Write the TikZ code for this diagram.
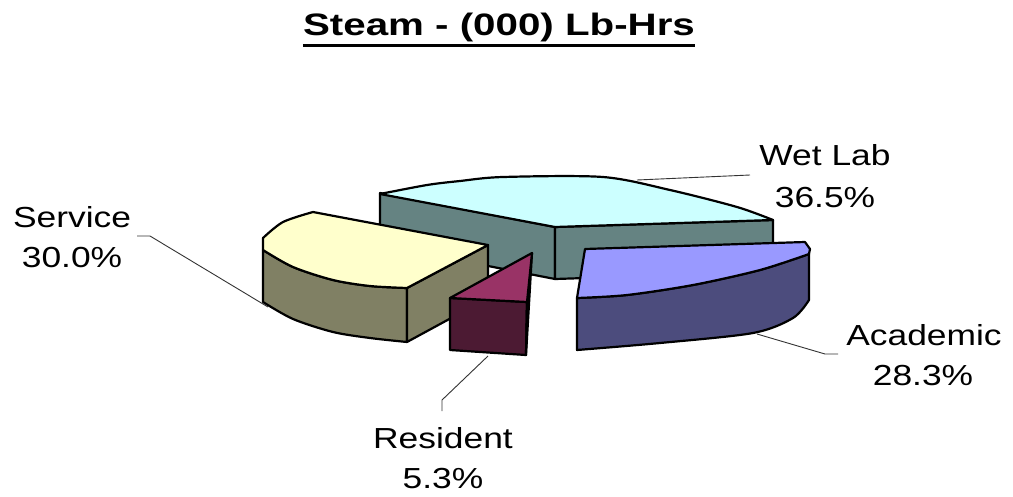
\documentclass[tikz,border=0pt]{standalone}
\usepackage{fontspec}
\setmainfont{Liberation Sans}
\newfontfamily\labfont[FakeStretch=1.22]{Liberation Sans}
\newfontfamily\titfont[FakeStretch=1.30]{Liberation Sans}
\definecolor{wettop}{RGB}{204,255,255}
\definecolor{wetside}{RGB}{101,131,130}
\definecolor{sertop}{RGB}{255,255,204}
\definecolor{serside}{RGB}{128,128,100}
\definecolor{acatop}{RGB}{153,153,255}
\definecolor{acaside}{RGB}{76,76,125}
\definecolor{restop}{RGB}{153,51,102}
\definecolor{resside}{RGB}{76,26,51}
\tikzset{
  face/.style={draw=black, line width=2.2pt, line join=round},
  leader/.style={draw=black!80, line width=0.9pt},
  lab/.style={font=\labfont\fontsize{29}{34}\selectfont, inner sep=0pt, anchor=base},
}
\begin{document}
\begin{tikzpicture}[x=1pt,y=-1pt]
\useasboundingbox (0,0) rectangle (1013,496);
\fill[white] (0,0) rectangle (1013,496);
% title
\node[font=\titfont\bfseries\fontsize{31}{36}\selectfont, inner sep=0pt, anchor=base] (title) at (499,35) {Steam - (000) Lb-Hrs};
\draw[line width=3.2pt] ([yshift=-10.5pt]title.base west) -- ([yshift=-10.5pt]title.base east);
% Wet Lab slice
\path[face, fill=wetside] (380,193) -- (555,227) -- (555,279) -- (380,245) -- cycle;
\path[face, fill=wetside] (555,227) -- (773,220) -- (773,272) -- (555,279) -- cycle;
\path[face, fill=wettop] (380,194) -- plot[smooth] coordinates {(380,194) (427,185) (460,181) (503,177) (603,177) (670,190) (737,207) (773,220)} -- (555,227) -- cycle;
% Service slice
\path[face, fill=serside] plot[smooth] coordinates {(263,250) (293,267) (333,280) (370,286) (407,288)} -- (407,342) -- plot[smooth] coordinates {(407,342) (370,338) (333,332) (293,319) (263,302)} -- cycle;
\path[face, fill=serside] (407,288) -- (488,245) -- (488,298) -- (407,342) -- cycle;
\path[face, fill=sertop] (313,212) -- (488,245) -- (407,288) -- plot[smooth] coordinates {(407,288) (370,286) (333,280) (293,267) (263,250)} -- (263,238) -- plot[smooth] coordinates {(263,238) (283,222) (313,212)} -- cycle;
% Academic slice
\path[face, fill=acaside] plot[smooth] coordinates {(577,298) (627,295) (693,285) (760,270) (809,254)} -- (809,300) -- plot[smooth] coordinates {(809,300) (793,318) (753,333) (660,343) (577,350)} -- cycle;
\path[face, fill=acatop] (585,249) -- (805,242) -- (810,249) -- plot[smooth] coordinates {(809,254) (760,270) (693,285) (627,295) (577,298)} -- cycle;
% Resident slice
\path[face, fill=resside] (450,298) -- (527,302) -- (526,355) -- (450,350) -- cycle;
\path[face, fill=resside] (527,302) -- (532,253) -- (526,355) -- cycle;
\path[face, fill=restop] (532,253) -- (527,302) -- (450,298) -- cycle;
% labels
\node[lab] (wl1) at (825,165) {Wet Lab};
\node[lab] (wl2) at (825,207) {36.5\%};
\node[lab] (sv1) at (72,227) {Service};
\node[lab] (sv2) at (72,267) {30.0\%};
\node[lab] (ac1) at (924,345) {Academic};
\node[lab] (ac2) at (923,385) {28.3\%};
\node[lab] (rs1) at (443,448) {Resident};
\node[lab] (rs2) at (443,488) {5.3\%};
% leader lines
\coordinate (wlA) at (637,180); \coordinate (wlB) at (750,175);
\draw[leader] (wlA) -- (wlB);
\coordinate (svA) at (137,236); \coordinate (svB) at (150,236); \coordinate (svC) at (268,307);
\draw[leader] (svA) -- (svB) -- (svC);
\coordinate (acA) at (757,334); \coordinate (acB) at (825,354); \coordinate (acC) at (838,354);
\draw[leader] (acA) -- (acB) -- (acC);
\coordinate (rsA) at (488,356); \coordinate (rsB) at (442,400); \coordinate (rsC) at (442,411);
\draw[leader] (rsA) -- (rsB) -- (rsC);
\end{tikzpicture}
\end{document}
